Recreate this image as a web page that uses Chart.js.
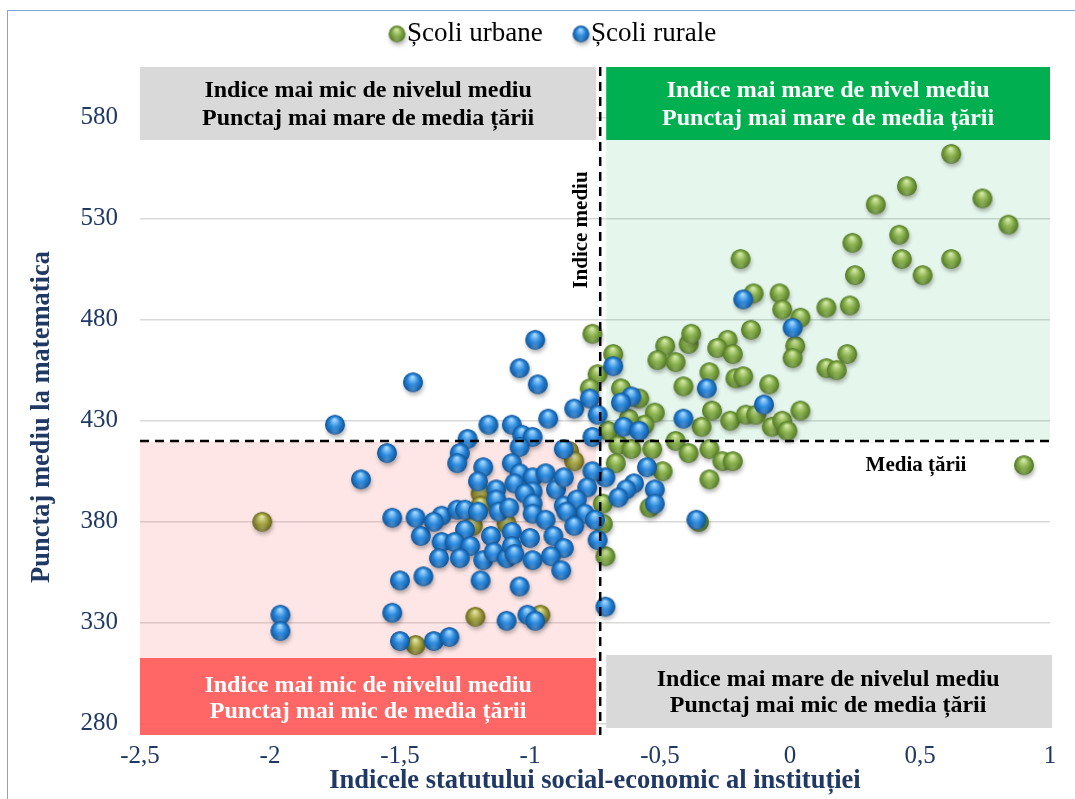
<!DOCTYPE html>
<html>
<head>
<meta charset="utf-8">
<script src="https://cdn.jsdelivr.net/npm/chart.js@4.4.1/dist/chart.umd.min.js"></script>
<style>
  html, body { margin: 0; padding: 0; background: #ffffff; }
  #wrap { position: relative; width: 1075px; height: 799px; overflow: hidden; }
  #frame { position: absolute; left: 7px; top: 10px; width: 1100px; height: 820px; border: 1.5px solid #7fa7dc; box-sizing: border-box; }
  #c { position: absolute; left: 0; top: 0; }
</style>
</head>
<body>
<div id="wrap">
  <div id="frame"></div>
  <canvas id="c" width="1075" height="799"></canvas>
</div>
<script>
// Școli urbane: indicele statutului social-economic (x) și punctajul mediu (y)
const urbanX = [0.62, 0.45, 0.74, 0.33, 0.84, 0.24, 0.42, 0.43, 0.62, 0.51, 0.25, 0.23, 0.22, 0.90,
  -0.19, -0.14, -0.04, -0.03, 0.04, 0.14, -0.15, -0.24, -0.28, -0.22, 0.02, 0.01, 0.14, 0.18,
  -0.31, -0.21, -0.18, -0.08, -0.30, -0.23, -0.17, -0.13, -0.07, -0.03, -0.01, 0.04, -0.34,
  -0.31, -0.26, -0.22, -0.31, -0.76, -0.68, -0.74, -0.48, -0.39, -0.38, -0.51, -0.44, -0.41,
  -0.77, -0.65, -0.58, -0.52, -0.70, -0.56, -0.62, -0.44, -0.66, -0.61, -0.53, -0.39, -0.67,
  -0.85, -0.83, -0.49, -0.54, -0.72, -0.72, -0.35, -0.71, -2.03, -1.21, -1.44, -0.96, -1.19,
  -1.19, -1.22, -1.09];
const urbanY = [562, 546, 540, 537, 527, 518, 522, 510, 510, 502, 502, 487, 463, 408,
  510, 493, 493, 485, 481, 486, 475, 470, 466, 463, 467, 461, 456, 455,
  454, 451, 452, 448, 435, 430, 433, 433, 427, 430, 425, 435, 427,
  416, 410, 410, 401, 473, 463, 453, 467, 468, 473, 460, 459, 447,
  446, 446, 441, 434, 425, 428, 431, 420, 418, 416, 416, 414, 409,
  415, 410, 405, 387, 389, 379, 380, 363, 380, 333, 319, 334, 394,
  388, 378, 379];

// Școli rurale
const ruralX = [-1.45, -1.75, -1.55, -1.65, -1.53, -1.44, -1.42, -1.50, -1.41, -1.96, -1.96, -1.53,
  -1.50, -0.98, -1.04, -0.97, -0.93, -0.83, -1.16, -1.07, -1.24, -1.03, -0.99, -1.04, -0.87,
  -1.27, -1.28, -1.18, -1.07, -1.04, -1.20, -1.13, -0.99, -0.94, -0.99, -0.90, -0.87, -1.06,
  -1.02, -1.13, -0.99, -0.87, -1.34, -1.37, -1.28, -1.25, -1.20, -1.12, -1.08, -0.99, -0.94,
  -1.25, -1.34, -1.29, -1.23, -1.15, -1.07, -1.00, -0.91, -0.87, -1.35, -1.27, -1.18, -1.14,
  -1.09, -1.07, -1.06, -0.99, -0.92, -0.88, -1.19, -1.04, -1.09, -1.01, -0.98, -1.37, -1.31,
  -0.18, 0.01, -0.32, -0.10, -0.68, -0.77, -0.74, -0.61, -0.65, -0.41, -0.64, -0.58, -0.76,
  -0.55, -0.60, -0.63, -0.66, -0.52, -0.52, -0.36, -0.71, -0.76, -0.78, -0.71, -0.82, -0.79,
  -0.86, -0.75, -0.83, -0.74];
const ruralY = [449, 428, 414, 401, 382, 382, 373, 351, 353, 334, 326, 335,
  321, 470, 456, 448, 431, 436, 428, 428, 421, 423, 422, 417, 416,
  414, 409, 407, 409, 404, 400, 396, 402, 404, 395, 396, 402, 399,
  394, 391, 389, 388, 383, 380, 386, 386, 385, 385, 387, 384, 381,
  376, 370, 370, 368, 373, 375, 372, 373, 367, 362, 362, 361, 365,
  362, 368, 364, 361, 363, 356, 351, 348, 331, 334, 331, 321, 323,
  490, 476, 446, 438, 457, 441, 433, 442, 439, 431, 427, 425, 422,
  407, 399, 396, 392, 396, 389, 381, 402, 405, 397, 338, 391, 384,
  385, 381, 378, 371];

// Valorile de referință: media țării și indicele mediu
const mediaTarii = 420;
const indiceMediu = -0.73;

// Gradațiile axelor
const xTickValues = [-2.5, -2, -1.5, -1, -0.5, 0, 0.5, 1];
const yTickValues = [280, 330, 380, 430, 480, 530, 580];

const seriesNames = ['Școli urbane', 'Școli rurale'];
const xTitle = 'Indicele statutului social-economic al instituției';
const yTitle = 'Punctaj mediu la matematica';
const quadrantTexts = {
  topLeft: ['Indice mai mic de nivelul mediu', 'Punctaj mai mare de media țării'],
  topRight: ['Indice mai mare de nivel mediu', 'Punctaj mai mare de media țării'],
  bottomLeft: ['Indice mai mic de nivelul mediu', 'Punctaj mai mic de media țării'],
  bottomRight: ['Indice mai mare de nivelul mediu', 'Punctaj mai mic de media țării']
};

const SERIF = "'Liberation Serif', 'Times New Roman', serif";
const NAVY = '#1f3864';

// Sferă cu umbră folosită ca marker
function makeSphere(light, mid, dark, r) {
  const size = Math.ceil(r * 2 + 14);
  const cv = document.createElement('canvas');
  cv.width = size; cv.height = size;
  const g = cv.getContext('2d');
  const c = size / 2;
  g.save();
  g.shadowColor = 'rgba(0,0,0,0.3)';
  g.shadowBlur = 4;
  g.shadowOffsetX = 1;
  g.shadowOffsetY = 3;
  g.beginPath(); g.arc(c, c, r, 0, Math.PI * 2);
  g.fillStyle = dark; g.fill();
  g.restore();
  const grad = g.createRadialGradient(c - r * 0.05, c - r * 0.55, r * 0.05, c, c + r * 0.05, r * 1.05);
  grad.addColorStop(0, light);
  grad.addColorStop(0.5, mid);
  grad.addColorStop(0.9, dark);
  grad.addColorStop(1, dark);
  g.beginPath(); g.arc(c, c, r, 0, Math.PI * 2);
  g.fillStyle = grad; g.fill();
  // reflex discret jos
  const refl = g.createRadialGradient(c, c + r * 0.75, 0, c, c + r * 0.75, r * 0.6);
  refl.addColorStop(0, 'rgba(255,255,255,0.2)');
  refl.addColorStop(1, 'rgba(255,255,255,0)');
  g.beginPath(); g.arc(c, c, r, 0, Math.PI * 2);
  g.fillStyle = refl; g.fill();
  return cv;
}

const greenBall = makeSphere('#d6ecaa', '#84ac48', '#587e2a', 9.8);
const oliveBall = makeSphere('#e6e6a8', '#a2a03e', '#6c6a22', 9.8);
const blueBall = makeSphere('#aadcff', '#2887dc', '#145a9e', 9.8);
const greenBallSmall = makeSphere('#d6ecaa', '#84ac48', '#587e2a', 8.2);
const blueBallSmall = makeSphere('#aadcff', '#2887dc', '#145a9e', 8.2);

const urbanData = urbanX.map((x, i) => ({ x: x, y: urbanY[i] }));
const ruralData = ruralX.map((x, i) => ({ x: x, y: ruralY[i] }));

// școlile urbane din cadranul de jos-stânga apar în nuanță măslinie
function urbanStyle(ctx) {
  const p = ctx.raw;
  if (p && p.x < indiceMediu && p.y < mediaTarii) return oliveBall;
  return greenBall;
}

function drawLines(ctx, lines, cx, ys, color, font) {
  ctx.save();
  ctx.font = font;
  ctx.fillStyle = color;
  ctx.textAlign = 'center';
  ctx.textBaseline = 'middle';
  lines.forEach((t, i) => ctx.fillText(t, cx, ys[i]));
  ctx.restore();
}

const quadrantPlugin = {
  id: 'quadrants',
  beforeDatasetsDraw(chart) {
    const { ctx, chartArea: ca, scales } = chart;
    const xm = scales.x.getPixelForValue(indiceMediu);
    const ym = scales.y.getPixelForValue(mediaTarii);
    const headH = 73;
    ctx.save();
    // zonele colorate ale cadranelor
    ctx.fillStyle = 'rgba(245, 90, 90, 0.15)';
    ctx.fillRect(ca.left, ym + 1, xm - 4 - ca.left, ca.bottom - 77 - ym - 1);
    ctx.fillStyle = 'rgba(0, 176, 80, 0.10)';
    ctx.fillRect(xm + 6, ca.top + headH, ca.right - xm - 6, ym - ca.top - headH - 1);
    ctx.restore();
  },
  afterDatasetsDraw(chart) {
    const { ctx, chartArea: ca, scales } = chart;
    const xm = scales.x.getPixelForValue(indiceMediu);
    const ym = scales.y.getPixelForValue(mediaTarii);
    const headH = 73;

    ctx.save();
    // casetele cu explicații
    ctx.fillStyle = '#d9d9d9';
    ctx.fillRect(ca.left, ca.top, xm - 4 - ca.left, headH);
    ctx.fillStyle = '#00b050';
    ctx.fillRect(xm + 6, ca.top, ca.right - xm - 6, headH);
    ctx.fillStyle = 'rgba(255, 85, 85, 0.9)';
    ctx.fillRect(ca.left, ca.bottom - 77, xm - 4 - ca.left, 77);
    ctx.fillStyle = '#d9d9d9';
    ctx.fillRect(xm + 6, ca.bottom - 80, ca.right + 2 - xm - 6, 73);

    // liniile de referință
    ctx.strokeStyle = '#000000';
    ctx.lineWidth = 2.5;
    ctx.setLineDash([9, 6]);
    ctx.beginPath();
    ctx.moveTo(ca.left, ym); ctx.lineTo(ca.right, ym);
    ctx.stroke();
    ctx.beginPath();
    ctx.moveTo(xm, ca.top); ctx.lineTo(xm, ca.bottom);
    ctx.stroke();
    ctx.restore();

    const boxFont = 'bold 24px ' + SERIF;
    const lcx = (ca.left + xm - 4) / 2;
    const rcx = (xm + 6 + ca.right) / 2;
    drawLines(ctx, quadrantTexts.topLeft, lcx, [ca.top + 24, ca.top + 52], '#000000', boxFont);
    drawLines(ctx, quadrantTexts.topRight, rcx, [ca.top + 24, ca.top + 52], '#ffffff', boxFont);
    drawLines(ctx, quadrantTexts.bottomLeft, lcx, [ca.bottom - 49, ca.bottom - 23], '#ffffff', boxFont);
    drawLines(ctx, quadrantTexts.bottomRight, rcx, [ca.bottom - 55, ca.bottom - 29], '#000000', boxFont);

    // etichetele liniilor de referință
    ctx.save();
    ctx.font = 'bold 21px ' + SERIF;
    ctx.fillStyle = '#000000';
    ctx.textAlign = 'center';
    ctx.textBaseline = 'middle';
    ctx.fillText('Media țării', 916, ym + 25);
    ctx.translate(xm - 19, 230);
    ctx.rotate(-Math.PI / 2);
    ctx.fillText('Indice mediu', 0, 0);
    ctx.restore();

    // titlul axei verticale
    ctx.save();
    ctx.font = 'bold 26.5px ' + SERIF;
    ctx.fillStyle = NAVY;
    ctx.textAlign = 'center';
    ctx.textBaseline = 'middle';
    ctx.translate(42, 417);
    ctx.rotate(-Math.PI / 2);
    ctx.fillText(yTitle, 0, 0);
    ctx.restore();

    // legenda
    ctx.save();
    ctx.font = '27px ' + SERIF;
    ctx.fillStyle = '#000000';
    ctx.textAlign = 'left';
    ctx.textBaseline = 'middle';
    const ly = 34;
    ctx.drawImage(greenBallSmall, 397 - greenBallSmall.width / 2, ly - greenBallSmall.height / 2);
    ctx.fillText(seriesNames[0], 407, ly);
    ctx.drawImage(blueBallSmall, 581 - blueBallSmall.width / 2, ly - blueBallSmall.height / 2);
    ctx.fillText(seriesNames[1], 591, ly);
    ctx.restore();
  }
};

new Chart(document.getElementById('c'), {
  type: 'scatter',
  data: {
    datasets: [
      { label: seriesNames[0], data: urbanData, pointStyle: urbanStyle, order: 1,
        backgroundColor: '#84ac48', borderColor: '#84ac48' },
      { label: seriesNames[1], data: ruralData, pointStyle: blueBall, order: 0,
        backgroundColor: '#2887dc', borderColor: '#2887dc' }
    ]
  },
  options: {
    responsive: false,
    animation: false,
    devicePixelRatio: 1,
    layout: { padding: { top: 67, left: 10, right: 25, bottom: 0 } },
    plugins: {
      legend: { display: false },
      tooltip: { enabled: false },
      title: { display: false }
    },
    scales: {
      x: {
        type: 'linear',
        min: -2.5,
        max: 1,
        afterBuildTicks: axis => { axis.ticks = xTickValues.map(v => ({ value: v })); },
        afterFit: s => { s.height = 64; },
        grid: { display: false, drawTicks: false },
        border: { display: false },
        ticks: {
          padding: 6,
          color: NAVY,
          font: { family: SERIF, size: 25 },
          callback: v => String(v).replace('.', ','),
          maxRotation: 0
        },
        title: {
          display: true,
          text: xTitle,
          color: NAVY,
          font: { family: SERIF, size: 26.5, weight: 'bold' },
          padding: { top: 0, bottom: 2 }
        }
      },
      y: {
        type: 'linear',
        min: 274.5,
        max: 605,
        afterBuildTicks: axis => { axis.ticks = yTickValues.map(v => ({ value: v })); },
        afterFit: s => { s.width = 130; },
        grid: { color: '#d9d9d9', lineWidth: 1.5, drawTicks: false },
        border: { display: false },
        ticks: {
          padding: 22,
          color: NAVY,
          font: { family: SERIF, size: 25 }
        },
        title: { display: false }
      }
    }
  },
  plugins: [quadrantPlugin]
});
</script>
</body>
</html>
